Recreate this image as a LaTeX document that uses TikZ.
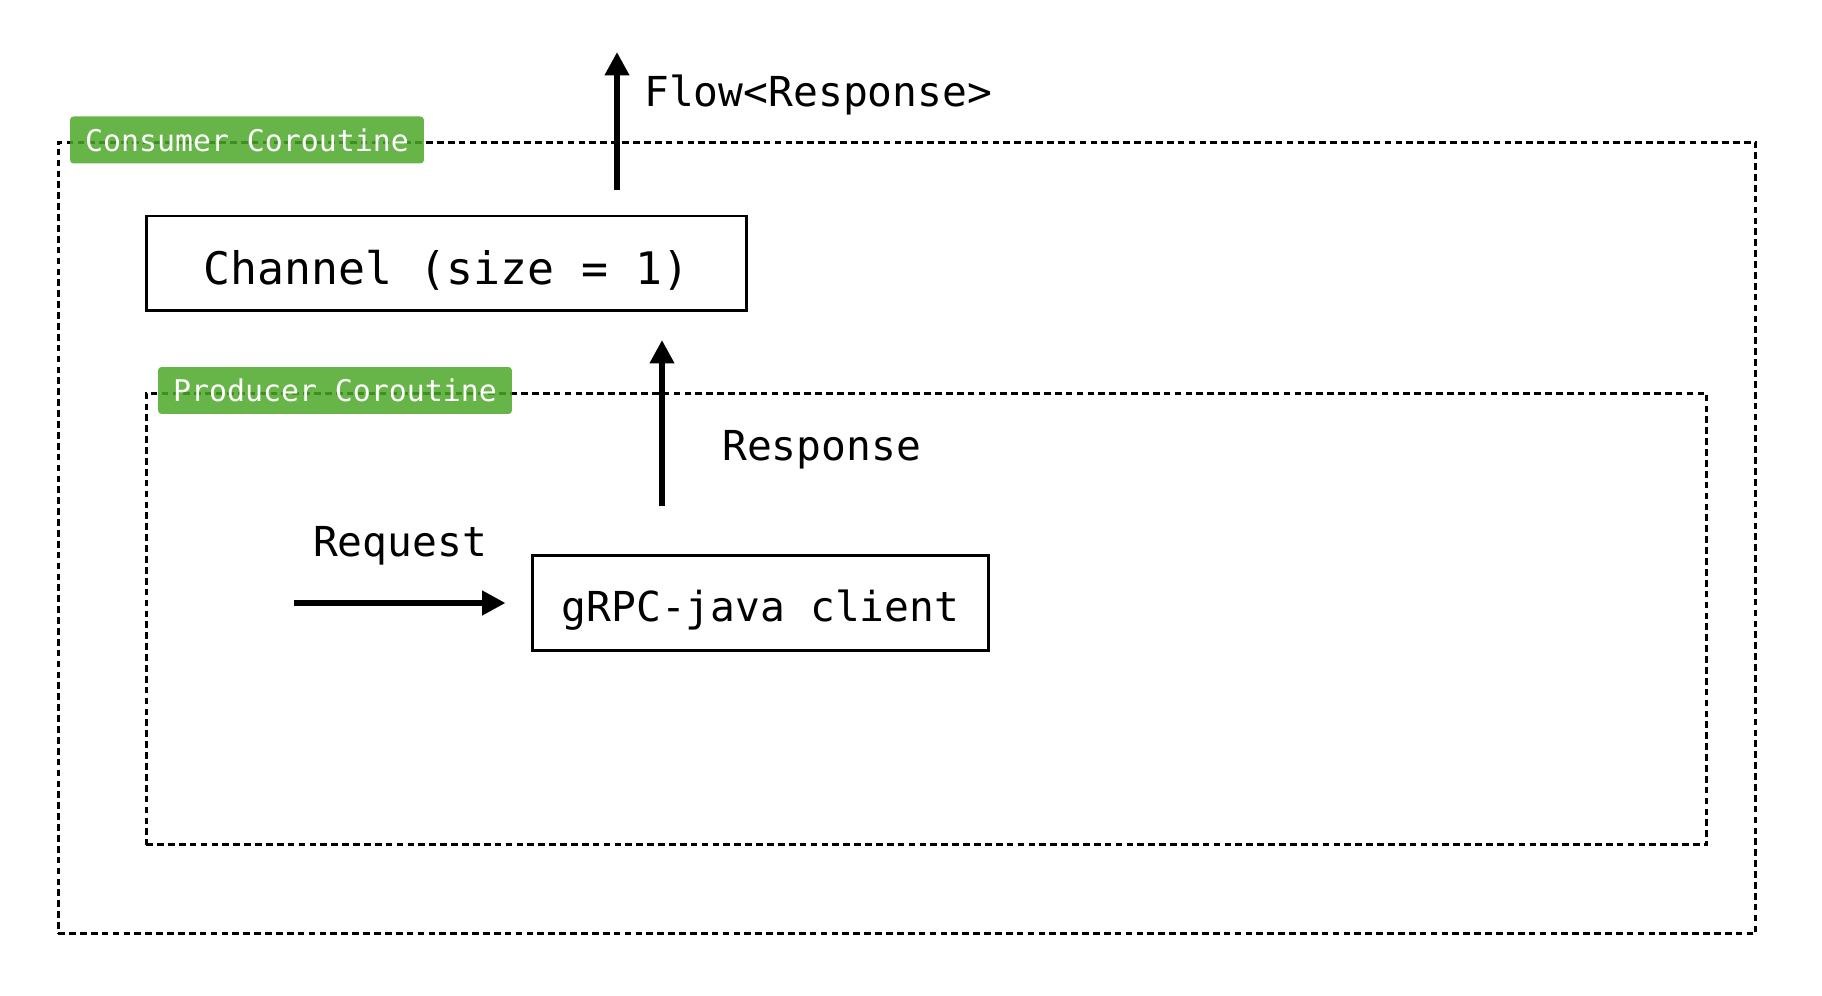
\documentclass[tikz,border=0pt]{standalone}
\usepackage{fontspec}
\setmonofont{DejaVu Sans Mono}
\usetikzlibrary{arrows.meta, positioning}
\definecolor{tagvert}{RGB}{76,167,40}

\begin{document}
\begin{tikzpicture}[x=0.02cm, y=-0.02cm,
				>={Triangle[length=0.47cm, width=0.47cm]},
				zone/.style={draw, line width=1.7pt, dash pattern=on 3.8pt off 2.4pt,
					inner sep=0pt},
				tag/.style={fill=tagvert, fill opacity=0.85, text opacity=1,
					rounded corners=2pt, text=white,
					minimum width=7.08cm, minimum height=0.94cm, inner sep=0pt,
					font=\ttfamily\fontsize{17}{20}\selectfont},
				box/.style={draw, line width=1.7pt, inner sep=0pt,
					minimum height=1.9cm},
				lbl/.style={font=\ttfamily\fontsize{23.5}{28}\selectfont},
				flux/.style={->, line width=3.4pt}
				]
				\useasboundingbox (0,0) rectangle (1822,996);
				
				% Zones des coroutines
				\node[zone, minimum width=33.96cm, minimum height=15.84cm] (consumer) at (907,538) {};
				\node[zone, minimum width=31.22cm, minimum height=9.04cm] (producer) at (926.5,619) {};
				\node[tag] (ctag) at (247,140) {Consumer Coroutine};
				\node[tag] (ptag) at (335,390.5) {Producer Coroutine};
				
				% Boites
				\node[box, minimum width=12.02cm, text height=29pt, text depth=5pt,
					font=\ttfamily\fontsize{25.5}{30}\selectfont] (channel) at (446.5,263.5) {Channel (size = 1)};
				\node[box, minimum width=9.14cm, text height=26pt, text depth=5pt,
					font=\ttfamily\fontsize{23.5}{28}\selectfont] (client) at (760.5,603) {gRPC-java client};
				
				% Extremites libres des fleches
				\coordinate (flowbas) at (617,190);
				\coordinate (flowhaut) at (617,52);
				\coordinate (respbas) at (662,506);
				\coordinate (resphaut) at (662,340);
				\coordinate (reqgauche) at (294,603);
				
				\node[lbl, anchor=west] (flow) at (638,95) {Flow<Response>};
				\node[lbl, anchor=west] (resp) at (716,450) {Response};
				\node[lbl] (req) at (400,546) {Request};
				
				\draw[flux] (flowbas) -- (flowhaut);
				\draw[flux] (respbas) -- (resphaut);
				\draw[flux, shorten >=0.5cm] (reqgauche) -- (client.west);
			\end{tikzpicture}
\end{document}
